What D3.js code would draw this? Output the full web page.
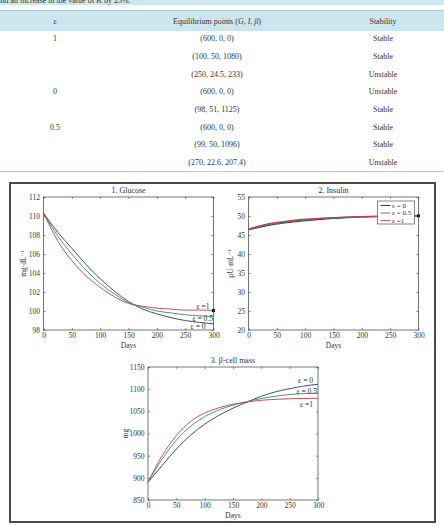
<!DOCTYPE html>
<html>
<head>
<meta charset="utf-8">
<script src="https://cdn.jsdelivr.net/npm/d3@7"></script>
<style>
body { margin: 0; background: #fff; }
svg { display: block; font-family: "Liberation Serif", "DejaVu Serif", serif; }
</style>
</head>
<body>
<svg id="chart" width="444" height="526"></svg>
<script>
// ---- data ----
const days = [0, 25, 50, 75, 100, 125, 150, 175, 200, 225, 250, 275, 300]

const glucoseEps0   = [110.3, 108.3, 106.6, 104.9, 103.4, 102.1, 101.0, 100.2, 99.7, 99.3, 99.0, 98.8, 98.65]
const glucoseEps05  = [110.3, 107.9, 106.0, 104.3, 102.9, 101.8, 100.9, 100.4, 100.0, 99.8, 99.6, 99.5, 99.4]
const glucoseEps1   = [110.3, 107.4, 105.3, 103.7, 102.5, 101.5, 100.8, 100.5, 100.3, 100.2, 100.1, 100.1, 100.05]

const insulinEps0   = [46.4, 47.2, 47.9, 48.4, 48.8, 49.1, 49.4, 49.6, 49.75, 49.85, 49.95, 50.0, 50.05]
const insulinEps05  = [46.5, 47.4, 48.1, 48.6, 49.0, 49.3, 49.5, 49.7, 49.8, 49.9, 49.95, 50.0, 50.05]
const insulinEps1   = [46.6, 47.6, 48.3, 48.8, 49.15, 49.4, 49.55, 49.7, 49.8, 49.9, 49.95, 50.0, 50.05]

const betaEps0      = [890, 928, 965, 996, 1021, 1041, 1057, 1071, 1084, 1094, 1101, 1107, 1111]
const betaEps05     = [890, 942, 985, 1016, 1038, 1053, 1064, 1072, 1079, 1084, 1088, 1090, 1091]
const betaEps1      = [890, 950, 995, 1027, 1046, 1058, 1066, 1071, 1075, 1077, 1078.5, 1079, 1079.5]

const seriesNames = ['ε = 0', 'ε = 0.5', 'ε =1']

const dayTicks = [0, 50, 100, 150, 200, 250, 300]
const glucoseTicks = [98, 100, 102, 104, 106, 108, 110, 112]
const insulinTicks = [20, 25, 30, 35, 40, 45, 50, 55]
const betaTicks = [850, 900, 950, 1000, 1050, 1100, 1150]

const tableHeader = ['ε', 'Equilibrium points (G, I, β)', 'Stability']
const tableEps = ['1', '', '', '0', '', '0.5', '', '']
const tablePoints = ['(600, 0, 0)', '(100, 50, 1080)', '(250, 24.5, 233)', '(600, 0, 0)',
                     '(98, 51, 1125)', '(600, 0, 0)', '(99, 50, 1096)', '(270, 22.6, 207.4)']
const tableStability = ['Stable', 'Stable', 'Unstable', 'Unstable', 'Stable', 'Stable', 'Stable', 'Unstable']

const colors = ['#2b3a72', '#3a8c5c', '#c23f4c']

let svg = d3.select('#chart')

// ---- table above the figure ----
let drawTable = () => {
    svg.append('rect').attr('x', 0).attr('y', 0).attr('width', 444).attr('height', 5)
       .attr('fill', '#cfe6ee')
    svg.append('text').attr('x', -3).attr('y', 3).attr('font-size', 8).attr('fill', '#333')
       .text('and an increase in the value of K by 25%.')

    svg.append('rect').attr('x', 0).attr('y', 11).attr('width', 444).attr('height', 20)
       .attr('fill', '#cde5ee')
    svg.append('line').attr('x1', 0).attr('x2', 444).attr('y1', 10.5).attr('y2', 10.5)
       .attr('stroke', '#a9cbd8').attr('stroke-width', 1)

    const colX = [55, 217, 383]
    svg.append('text').attr('x', colX[0]).attr('y', 23.5).attr('text-anchor', 'middle')
       .attr('font-size', 8).attr('font-style', 'italic').attr('fill', '#333').text(tableHeader[0])
    let h2 = svg.append('text').attr('x', colX[1]).attr('y', 23.5).attr('text-anchor', 'middle')
       .attr('font-size', 8).attr('fill', '#333')
    h2.append('tspan').text('Equilibrium points (')
    h2.append('tspan').attr('font-style', 'italic').text('G')
    h2.append('tspan').text(', ')
    h2.append('tspan').attr('font-style', 'italic').text('I')
    h2.append('tspan').text(', ')
    h2.append('tspan').attr('font-style', 'italic').text('β')
    h2.append('tspan').text(')')
    svg.append('text').attr('x', colX[2]).attr('y', 23.5).attr('text-anchor', 'middle')
       .attr('font-size', 8).attr('fill', '#333').text(tableHeader[2])

    const rowY = d3.scaleLinear().domain([0, 7]).range([38.3, 162.3])
    tablePoints.forEach((p, i) => {
        const y = rowY(i) + 2.8
        svg.append('text').attr('x', colX[0]).attr('y', y).attr('text-anchor', 'middle')
           .attr('font-size', 8).attr('fill', '#333').text(tableEps[i])
        svg.append('text').attr('x', colX[1]).attr('y', y).attr('text-anchor', 'middle')
           .attr('font-size', 8).attr('fill', '#333').text(p)
        svg.append('text').attr('x', colX[2]).attr('y', y).attr('text-anchor', 'middle')
           .attr('font-size', 8).attr('fill', '#333').text(tableStability[i])
    })

    svg.append('line').attr('x1', 0).attr('x2', 444).attr('y1', 171.7).attr('y2', 171.7)
       .attr('stroke', '#a9c6d6').attr('stroke-width', 1)
}

// ---- figure frame ----
let drawFrame = () => {
    svg.append('rect').attr('x', 10).attr('y', 183).attr('width', 425).attr('height', 339)
       .attr('fill', 'none').attr('stroke', '#4a4a4a').attr('stroke-width', 2)
}

// ---- one MATLAB-like panel ----
let drawPanel = (cfg) => {
    const w = 170, h = 133
    let g = svg.append('g').attr('transform', 'translate(' + cfg.left + ',' + cfg.top + ')')

    let xScale = d3.scaleLinear().domain([0, 300]).range([0, w])
    let yScale = d3.scaleLinear().domain(cfg.yDomain).range([h, 0])

    g.append('rect').attr('width', w).attr('height', h).attr('fill', '#fff')

    let styleAxis = (sel) => {
        sel.select('.domain').remove()
        sel.selectAll('.tick line').attr('stroke', '#555').attr('stroke-width', 0.7)
        sel.selectAll('.tick text').attr('fill', '#333').style('font-size', '7.5px')
           .style('font-family', '"Liberation Serif", serif')
    }

    g.append('g').attr('transform', 'translate(0,' + h + ')')
     .call(d3.axisBottom(xScale).tickValues(dayTicks).tickSize(-2).tickPadding(3).tickFormat(d3.format('d')))
     .call(styleAxis)
    g.append('g')
     .call(d3.axisTop(xScale).tickValues(dayTicks).tickSize(-2).tickFormat(''))
     .call(styleAxis)
    g.append('g')
     .call(d3.axisLeft(yScale).tickValues(cfg.yTicks).tickSize(-2).tickPadding(3.5).tickFormat(d3.format('d')))
     .call(styleAxis)
    g.append('g').attr('transform', 'translate(' + w + ',0)')
     .call(d3.axisRight(yScale).tickValues(cfg.yTicks).tickSize(-2).tickFormat(''))
     .call(styleAxis)

    g.append('rect').attr('width', w).attr('height', h).attr('fill', 'none')
     .attr('stroke', '#555').attr('stroke-width', 0.8)

    let line = d3.line()
                 .x((d, i) => xScale(days[i]))
                 .y(d => yScale(d))
                 .curve(d3.curveMonotoneX)

    cfg.series.forEach((s, i) => {
        g.append('path').datum(s).attr('d', line).attr('fill', 'none')
         .attr('stroke', colors[i]).attr('stroke-width', cfg.lineWidth || 0.9)
    })

    if (cfg.endMarker) {
        const last = cfg.series[cfg.endMarker.index]
        g.append('rect').attr('x', xScale(300) - 1.5).attr('y', yScale(last[last.length - 1]) - 1.5)
         .attr('width', 3).attr('height', 3).attr('fill', '#222')
    }

    g.append('text').attr('x', w / 2).attr('y', -4).attr('text-anchor', 'middle')
     .attr('font-size', 8).attr('fill', '#333').text(cfg.title)
    g.append('text').attr('x', w / 2).attr('y', h + 18).attr('text-anchor', 'middle')
     .attr('font-size', 7.5).attr('fill', '#333').text('Days')
    g.append('text').attr('transform', 'translate(' + cfg.yLabelX + ',' + h / 2 + ') rotate(-90)')
     .attr('text-anchor', 'middle').attr('font-size', 7.5).attr('fill', '#333').text(cfg.yLabel)

    if (cfg.labels) {
        cfg.labels.forEach((lab, i) => {
            g.append('text').attr('x', lab[0]).attr('y', lab[1]).attr('text-anchor', 'end')
             .attr('font-size', 7.5).attr('fill', '#333').text(seriesNames[i])
        })
    }

    if (cfg.legend) {
        let lg = g.append('g').attr('transform', 'translate(' + (w - 41) + ',4)')
        lg.append('rect').attr('width', 37).attr('height', 23).attr('fill', '#fff')
          .attr('stroke', '#555').attr('stroke-width', 0.7)
        seriesNames.forEach((name, i) => {
            const y = 4.5 + i * 7.5
            lg.append('line').attr('x1', 3).attr('x2', 13).attr('y1', y).attr('y2', y)
              .attr('stroke', ['#222', '#5f7a66', '#c2505a'][i]).attr('stroke-width', 0.9)
            lg.append('text').attr('x', 14.5).attr('y', y + 2.4).attr('font-size', 7)
              .attr('fill', '#333').text(name)
        })
    }
}

drawTable()
drawFrame()

drawPanel({
    left: 43.5, top: 197, yDomain: [98, 112], yTicks: glucoseTicks,
    title: '1. Glucose', yLabel: 'mg·dL⁻¹', yLabelX: -18,
    series: [glucoseEps0, glucoseEps05, glucoseEps1],
    labels: [[162, 132], [169.5, 123.5], [166, 111.5]],
    endMarker: { index: 2 }
})

drawPanel({
    left: 248.5, top: 197, yDomain: [20, 55], yTicks: insulinTicks,
    title: '2. Insulin', yLabel: 'μU·mL⁻¹', yLabelX: -16,
    series: [insulinEps0, insulinEps05, insulinEps1], lineWidth: 1.3,
    legend: true, endMarker: { index: 0 }
})

drawPanel({
    left: 148, top: 367, yDomain: [850, 1150], yTicks: betaTicks,
    title: '3. β-cell mass', yLabel: 'mg', yLabelX: -20,
    series: [betaEps0, betaEps05, betaEps1],
    labels: [[165, 16], [169, 26.5], [165, 39.5]]
})
</script>
</body>
</html>
